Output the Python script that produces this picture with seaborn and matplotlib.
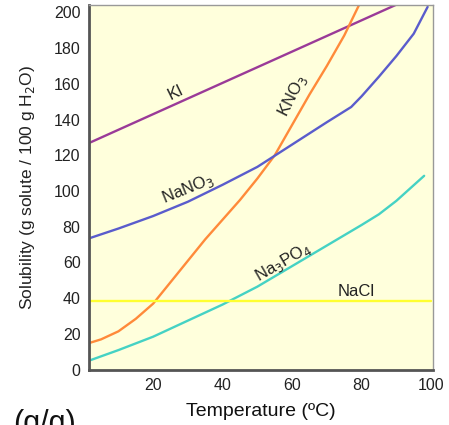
import numpy as np
import pandas as pd
import matplotlib
matplotlib.use("Agg")
import matplotlib.pyplot as plt
import seaborn as sns

# Solubility curves (temperature in deg C, g solute / 100 g water)
ki_temp = [0, 20, 40, 60, 80, 100]
ki_sol = [125.5, 143, 160.5, 178, 195.5, 213]

kno3_temp = [0, 5, 10, 15, 20, 25, 30, 35, 40, 45, 50, 55, 60, 65, 70, 75, 80]
kno3_sol = [14, 17, 21.5, 28.5, 37, 49, 61, 73, 84, 95, 107, 120, 137, 154, 170, 187, 207]

nano3_temp = [0, 10, 20, 30, 40, 50, 60, 70, 77, 80, 85, 90, 95, 99]
nano3_sol = [72.5, 79, 86, 94, 103.5, 113.5, 126, 138.5, 147, 153, 164, 175.5, 188, 203]

na3po4_temp = [0, 10, 20, 30, 40, 50, 60, 70, 80, 85, 90, 98]
na3po4_sol = [4, 11, 18.5, 27.5, 36.5, 46.5, 58, 69.5, 81, 87, 94.5, 108.5]

nacl_temp = [0, 100]
nacl_sol = [38.5, 38.5]

x_ticks = [20, 40, 60, 80, 100]
y_ticks = [0, 20, 40, 60, 80, 100, 120, 140, 160, 180, 200]

series = [
    ("KI", ki_temp, ki_sol, "#9a3a98"),
    ("KNO3", kno3_temp, kno3_sol, "#ff8a3a"),
    ("NaNO3", nano3_temp, nano3_sol, "#5a5ccc"),
    ("Na3PO4", na3po4_temp, na3po4_sol, "#45d2c4"),
    ("NaCl", nacl_temp, nacl_sol, "#ffff30"),
]

sns.set_style("white")
plt.rcParams['font.family'] = ['Liberation Sans', 'DejaVu Sans']

fig = plt.figure(figsize=(4.49, 4.25), dpi=100)
ax = fig.add_axes([0.198, 0.13, 0.766, 0.858])
ax.set_facecolor("#ffffdc")

for name, t, s, c in series:
    df = pd.DataFrame({"temp": t, "sol": s})
    sns.lineplot(data=df, x="temp", y="sol", color=c, linewidth=1.7, ax=ax, sort=False)

ax.set_xlim(1.5, 100.5)
ax.set_ylim(0, 204)
ax.set_xticks(x_ticks)
ax.set_yticks(y_ticks)
ax.tick_params(length=0, labelsize=11.5, colors="#222222", pad=6)

for side in ["left", "bottom"]:
    ax.spines[side].set_color("#555555")
    ax.spines[side].set_linewidth(2)
for side in ["top", "right"]:
    ax.spines[side].set_color("#999999")
    ax.spines[side].set_linewidth(1)

ax.set_xlabel("Temperature (ºC)", fontsize=14, color="#111111", labelpad=7)
ax.set_ylabel("Solubility (g solute / 100 g H$_2$O)", fontsize=12.5, color="#222222", labelpad=12)

txt = dict(fontsize=12, color="#222222", ha="center", va="center")
ax.text(26.4, 155, "KI", rotation=26, **txt)
ax.text(60.3, 153, "KNO$_3$", rotation=63, **txt)
ax.text(30.1, 101, "NaNO$_3$", rotation=22, **txt)
ax.text(57.4, 60, "Na$_3$PO$_4$", rotation=30, **txt)
ax.text(78.5, 44, "NaCl", rotation=0, **txt)

fig.text(0.03, 0.038, "(g/g)", fontsize=22, color="#111111", ha="left", va="top")

fig.savefig("out.png", dpi=100)
